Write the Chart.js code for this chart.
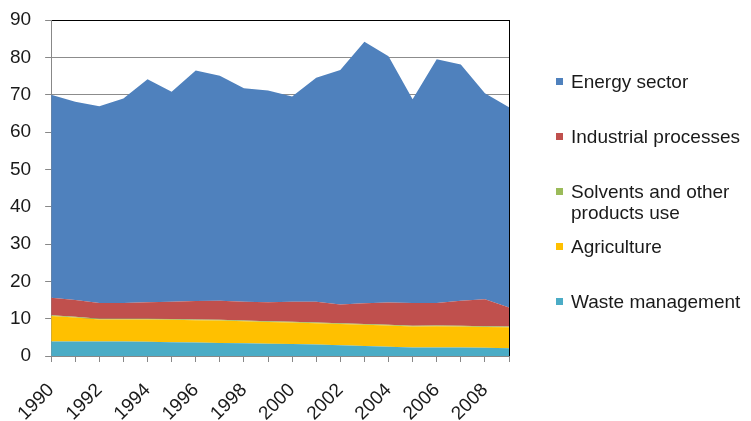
<!DOCTYPE html>
<html>
<head>
<meta charset="utf-8">
<script src="https://cdn.jsdelivr.net/npm/chart.js@4.4.1/dist/chart.umd.min.js"></script>
<style>
  html, body { margin: 0; padding: 0; background: #fff; }
  #wrap { position: relative; width: 751px; height: 421px; overflow: hidden; }
  #chart { position: absolute; left: 0; top: 0; }
  #legend {
    position: absolute; left: 556px; top: 71px; width: 195px;
    font-family: "Liberation Sans", Arial, sans-serif; font-size: 19px; color: #1a1a1a;
  }
  .item { position: relative; height: 55px; padding-left: 15px; line-height: 21px; }
  .item .box { position: absolute; left: 0; top: 7px; width: 7px; height: 7px; }
</style>
</head>
<body>
<div id="wrap">
  <canvas id="chart" width="751" height="421"></canvas>
  <div id="legend"></div>
</div>
<script>
// categories
const years = ['1990', '1991', '1992', '1993', '1994', '1995', '1996', '1997', '1998', '1999',
               '2000', '2001', '2002', '2003', '2004', '2005', '2006', '2007', '2008', '2009'];

// series values (stacked, bottom to top)
const wasteManagement = [3.9, 3.9, 3.9, 3.9, 3.8, 3.7, 3.6, 3.5, 3.4, 3.3, 3.2, 3.1, 2.9, 2.7, 2.5, 2.3, 2.3, 2.3, 2.2, 2.1];
const agriculture     = [6.8, 6.4, 5.9, 5.9, 6.0, 6.0, 6.0, 6.0, 5.9, 5.8, 5.8, 5.7, 5.7, 5.7, 5.7, 5.6, 5.7, 5.6, 5.6, 5.6];
const solvents        = [0.2, 0.2, 0.2, 0.2, 0.2, 0.2, 0.2, 0.2, 0.2, 0.2, 0.2, 0.2, 0.2, 0.2, 0.2, 0.2, 0.2, 0.2, 0.2, 0.2];
const industrial      = [4.7, 4.5, 4.2, 4.2, 4.4, 4.6, 4.9, 5.1, 5.0, 5.1, 5.3, 5.5, 5.0, 5.5, 5.9, 6.1, 6.0, 6.7, 7.2, 5.1];
const energySector    = [54.4, 53.1, 52.7, 54.8, 59.7, 56.3, 61.8, 60.3, 57.2, 56.7, 55.0, 60.0, 62.8, 70.1, 66.0, 54.6, 65.3, 63.3, 55.2, 53.6];

// y axis ticks
const yTicks = [0, 10, 20, 30, 40, 50, 60, 70, 80, 90];

const FONT = '"Liberation Sans", Arial, sans-serif';
const NO_PAD = { left: 0, top: 0, right: 0, bottom: 0 };

function area(label, data, color, fill) {
    return {
        label: label,
        data: data,
        backgroundColor: color,
        borderColor: color,
        borderWidth: 0,
        pointRadius: 0,
        tension: 0,
        fill: fill
    };
}

const datasets = [
    area('Waste management', wasteManagement, '#4BACC6', 'origin'),
    area('Agriculture', agriculture, '#FFC000', '-1'),
    area('Solvents and other products use', solvents, '#9BBB59', '-1'),
    area('Industrial processes', industrial, '#C0504D', '-1'),
    area('Energy sector', energySector, '#4F81BD', '-1')
];

new Chart(document.getElementById('chart'), {
    type: 'line',
    data: { labels: years, datasets: datasets },
    options: {
        responsive: false,
        animation: false,
        layout: { autoPadding: false, padding: { left: -4, top: 20, right: 242, bottom: 0 } },
        plugins: { legend: { display: false }, tooltip: { enabled: false } },
        scales: {
            x: {
                offset: false,
                grid: {
                    color: ctx => ctx.index === years.length - 1 ? '#000' : 'rgba(0,0,0,0)',
                    tickColor: '#888',
                    tickLength: 6,
                    lineWidth: 1
                },
                border: { color: '#888' },
                ticks: {
                    autoSkip: false,
                    minRotation: 45,
                    maxRotation: 45,
                    padding: 17,
                    color: '#1a1a1a',
                    font: { family: FONT, size: 19 },
                    callback: (v, i) => i % 2 === 0 ? years[i] : ''
                },
                // labels overflow the left edge and are cut at the bottom, as in the original
                afterFit: axis => {
                    axis.paddingLeft = 0;
                    axis.paddingRight = 0;
                    axis.getPadding = () => NO_PAD;
                    axis.height = 65;
                }
            },
            y: {
                stacked: true,
                min: 0,
                max: 90,
                afterBuildTicks: axis => { axis.ticks = yTicks.map(v => ({ value: v })); },
                afterFit: axis => {
                    axis.paddingTop = 0;
                    axis.paddingBottom = 0;
                    axis.getPadding = () => NO_PAD;
                },
                grid: {
                    color: ctx => ctx.tick && ctx.tick.value === 90 ? '#000' : '#8c8c8c',
                    tickColor: '#888',
                    tickLength: 6
                },
                border: { color: '#888' },
                ticks: {
                    padding: 14,
                    color: '#1a1a1a',
                    font: { family: FONT, size: 19 }
                }
            }
        }
    }
});

// legend (top to bottom as in the chart)
const legend = document.getElementById('legend');
datasets.slice().reverse().forEach(ds => {
    const item = document.createElement('div');
    item.className = 'item';
    item.innerHTML = '<span class="box" style="background:' + ds.backgroundColor + '"></span>' + ds.label;
    legend.appendChild(item);
});
</script>
</body>
</html>
